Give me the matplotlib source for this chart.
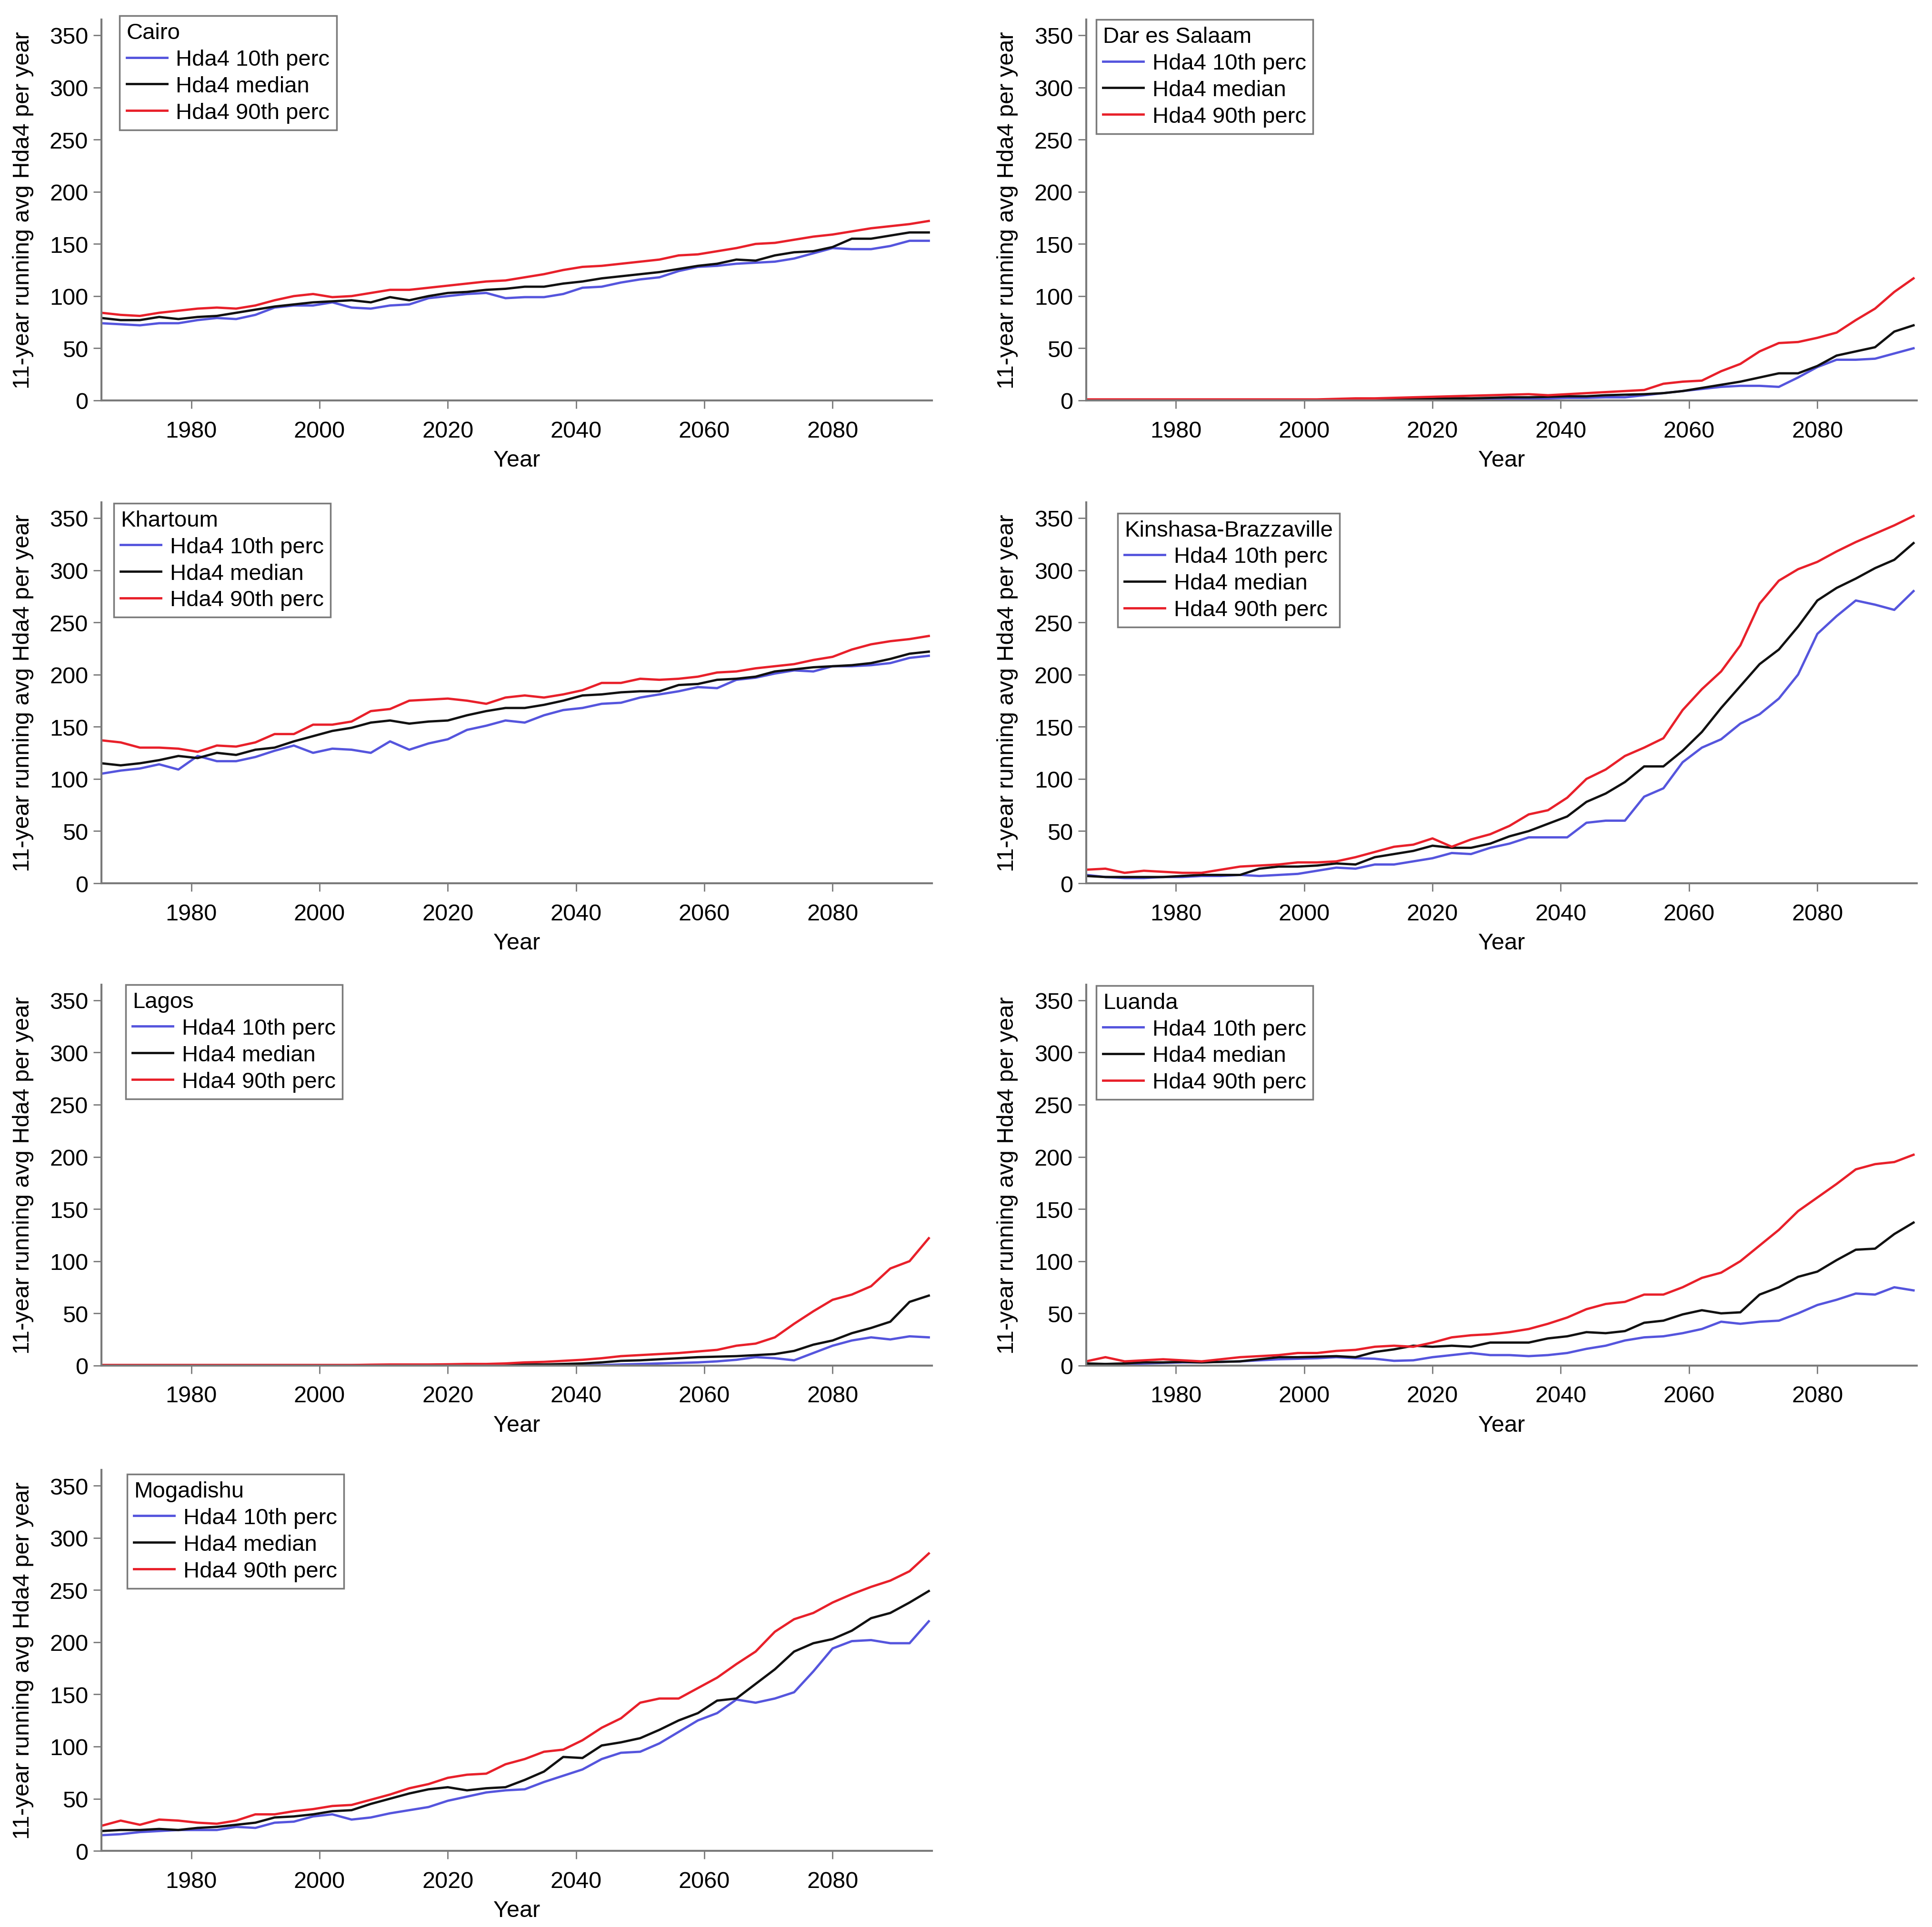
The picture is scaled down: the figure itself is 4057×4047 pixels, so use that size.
import matplotlib
matplotlib.use("Agg")
import matplotlib.pyplot as plt

plt.rcParams['font.family'] = ['Liberation Sans', 'DejaVu Sans']

# 11-year running average, sampled every 3 years
YEARS = [1966, 1969, 1972, 1975, 1978, 1981, 1984, 1987, 1990, 1993, 1996,
         1999, 2002, 2005, 2008, 2011, 2014, 2017, 2020, 2023, 2026, 2029,
         2032, 2035, 2038, 2041, 2044, 2047, 2050, 2053, 2056, 2059, 2062,
         2065, 2068, 2071, 2074, 2077, 2080, 2083, 2086, 2089, 2092, 2095]

CAIRO_P10 = [74, 73, 72, 74, 74, 77, 79, 78, 82, 89, 91, 91, 94, 89, 88, 91, 92, 98, 100, 102, 103, 98,
             99, 99, 102, 108, 109, 113, 116, 118, 124, 128, 129, 131, 132, 133, 136, 141, 146, 145, 145, 148, 153, 153]
CAIRO_MED = [79, 77, 77, 80, 78, 80, 81, 84, 87, 90, 92, 94, 95, 96, 94, 99, 96, 100, 103, 104, 106, 107,
             109, 109, 112, 114, 117, 119, 121, 123, 126, 129, 131, 135, 134, 139, 142, 143, 147, 155, 155, 158, 161, 161]
CAIRO_P90 = [84, 82, 81, 84, 86, 88, 89, 88, 91, 96, 100, 102, 99, 100, 103, 106, 106, 108, 110, 112, 114, 115,
             118, 121, 125, 128, 129, 131, 133, 135, 139, 140, 143, 146, 150, 151, 154, 157, 159, 162, 165, 167, 169, 172]

DAR_P10 = [0.3, 0.3, 0.3, 0.3, 0.3, 0.3, 0.3, 0.3, 0.3, 0.3, 0.3, 0.3, 0.3, 0.3, 0.3, 0.3, 0.3, 0.3, 0.3, 1, 1, 1.5,
           1.5, 2, 2, 2.5, 2.5, 3, 3, 5, 7, 9, 11, 13, 14, 14, 13, 22, 32, 39, 39, 40, 45, 50]
DAR_MED = [0.5, 0.5, 0.5, 0.5, 0.5, 0.5, 0.5, 0.5, 0.5, 0.5, 0.5, 0.5, 0.5, 0.5, 0.5, 1, 1, 1.5, 1.5, 2, 2, 2.5,
           3, 3, 3.5, 4, 4, 5, 5.5, 6, 7, 9, 12, 15, 18, 22, 26, 26, 33, 43, 47, 51, 66, 72]
DAR_P90 = [1, 1, 1, 1, 1, 1, 1, 1, 1, 1, 1, 1, 1, 1.5, 2, 2, 2.5, 3, 3.5, 4, 4.5, 5,
           5.5, 6, 5, 6, 7, 8, 9, 10, 16, 18, 19, 28, 35, 47, 55, 56, 60, 65, 77, 88, 104, 117]

KHARTOUM_P10 = [105, 108, 110, 114, 109, 122, 117, 117, 121, 127, 132, 125, 129, 128, 125, 136, 128, 134, 138, 147, 151, 156,
                154, 161, 166, 168, 172, 173, 178, 181, 184, 188, 187, 195, 197, 201, 204, 203, 208, 208, 209, 211, 216, 218]
KHARTOUM_MED = [115, 113, 115, 118, 122, 120, 125, 123, 128, 130, 136, 141, 146, 149, 154, 156, 153, 155, 156, 161, 165, 168,
                168, 171, 175, 180, 181, 183, 184, 184, 190, 191, 195, 196, 198, 203, 205, 207, 208, 209, 211, 215, 220, 222]
KHARTOUM_P90 = [137, 135, 130, 130, 129, 126, 132, 131, 135, 143, 143, 152, 152, 155, 165, 167, 175, 176, 177, 175, 172, 178,
                180, 178, 181, 185, 192, 192, 196, 195, 196, 198, 202, 203, 206, 208, 210, 214, 217, 224, 229, 232, 234, 237]

KINSHASA_P10 = [8, 6, 5, 5, 6, 6, 7, 7, 8, 7, 8, 9, 12, 15, 14, 18, 18, 21, 24, 29, 28, 34,
                38, 44, 44, 44, 58, 60, 60, 83, 91, 116, 130, 138, 153, 162, 177, 200, 239, 256, 271, 267, 262, 280]
KINSHASA_MED = [7, 6, 6, 6, 6, 7, 8, 8, 8, 14, 16, 16, 17, 19, 18, 25, 28, 31, 36, 34, 34, 38,
                45, 50, 57, 64, 78, 86, 97, 112, 112, 127, 145, 168, 189, 210, 224, 246, 271, 283, 292, 302, 310, 326]
KINSHASA_P90 = [13, 14, 10, 12, 11, 10, 10, 13, 16, 17, 18, 20, 20, 21, 25, 30, 35, 37, 43, 35, 42, 47,
                55, 66, 70, 82, 100, 109, 122, 130, 139, 166, 186, 203, 228, 268, 290, 301, 308, 318, 327, 335, 343, 352]

LAGOS_P10 = [0.2, 0.2, 0.2, 0.2, 0.2, 0.2, 0.2, 0.2, 0.2, 0.2, 0.2, 0.2, 0.2, 0.2, 0.2, 0.2, 0.2, 0.2, 0.2, 0.2, 0.2, 0.2,
             0.2, 0.2, 0.2, 0.2, 0.5, 1, 1.5, 2, 2.5, 3, 4, 5.5, 8, 7, 5, 12, 19, 24, 27, 25, 28, 27]
LAGOS_MED = [0.3, 0.3, 0.3, 0.3, 0.3, 0.3, 0.3, 0.3, 0.3, 0.3, 0.3, 0.3, 0.3, 0.3, 0.3, 0.3, 0.3, 0.3, 0.3, 0.3, 0.3, 0.3,
             1, 1, 1.5, 2, 3, 4.5, 5, 6, 7, 8, 8.5, 9, 10, 11, 14, 20, 24, 31, 36, 42, 61, 67]
LAGOS_P90 = [0.5, 0.5, 0.5, 0.5, 0.5, 0.5, 0.5, 0.5, 0.5, 0.5, 0.5, 0.5, 0.5, 0.5, 0.8, 1, 1, 1, 1.2, 1.5, 1.5, 2,
             3, 3.5, 4.5, 5.5, 7, 9, 10, 11, 12, 13.5, 15, 19, 21, 27, 40, 52, 63, 68, 76, 93, 100, 122]

LUANDA_P10 = [1, 1.5, 1.5, 2, 2.5, 3, 3, 3.5, 4, 5, 6, 6.5, 7, 8, 7, 6.5, 4.5, 5, 8, 10, 12, 10,
              10, 9, 10, 12, 16, 19, 24, 27, 28, 31, 35, 42, 40, 42, 43, 50, 58, 63, 69, 68, 75, 72]
LUANDA_MED = [2, 1.5, 2, 3, 3, 3.5, 3, 3.5, 4, 6, 8, 8, 8.5, 9, 8, 13, 15.5, 19, 18, 19, 18, 22,
              22, 22, 26, 28, 32, 31, 33, 41, 43, 49, 53, 50, 51, 68, 75, 85, 90, 101, 111, 112, 126, 137]
LUANDA_P90 = [4, 8, 4, 5, 6, 5, 4, 6, 8, 9, 10, 12, 12, 14, 15, 18, 19, 18, 22, 27, 29, 30,
              32, 35, 40, 46, 54, 59, 61, 68, 68, 75, 84, 89, 100, 115, 130, 148, 161, 174, 188, 193, 195, 202]

MOGADISHU_P10 = [15, 16, 18, 19, 20, 20, 20, 23, 22, 27, 28, 33, 35, 30, 32, 36, 39, 42, 48, 52, 56, 58,
                 59, 66, 72, 78, 88, 94, 95, 103, 114, 125, 132, 145, 142, 146, 152, 172, 194, 201, 202, 199, 199, 220]
MOGADISHU_MED = [19, 20, 20, 21, 20, 22, 23, 25, 27, 32, 33, 35, 38, 39, 45, 50, 55, 59, 61, 58, 60, 61,
                 68, 76, 90, 89, 101, 104, 108, 116, 125, 132, 144, 146, 160, 174, 191, 199, 203, 211, 223, 228, 238, 249]
MOGADISHU_P90 = [24, 29, 25, 30, 29, 27, 26, 29, 35, 35, 38, 40, 43, 44, 49, 54, 60, 64, 70, 73, 74, 83,
                 88, 95, 97, 106, 118, 127, 142, 146, 146, 156, 166, 179, 191, 210, 222, 228, 238, 246, 253, 259, 268, 285]

CITIES = ['Cairo', 'Dar es Salaam', 'Khartoum', 'Kinshasa-Brazzaville', 'Lagos', 'Luanda', 'Mogadishu']
P10 = [CAIRO_P10, DAR_P10, KHARTOUM_P10, KINSHASA_P10, LAGOS_P10, LUANDA_P10, MOGADISHU_P10]
MED = [CAIRO_MED, DAR_MED, KHARTOUM_MED, KINSHASA_MED, LAGOS_MED, LUANDA_MED, MOGADISHU_MED]
P90 = [CAIRO_P90, DAR_P90, KHARTOUM_P90, KINSHASA_P90, LAGOS_P90, LUANDA_P90, MOGADISHU_P90]

# legend anchor (axes fraction) per panel
LEG_POS = [(0.022, 1.01), (0.012, 1.0), (0.015, 0.998), (0.038, 0.972),
           (0.029, 1.0), (0.012, 0.998), (0.031, 0.989)]

lefts = [0.0525, 0.5622]
bottoms = [0.792, 0.5415, 0.2913, 0.0395]
w, h = 0.4299, 0.1976

fig = plt.figure(figsize=(40.57, 40.48), dpi=100)
grey = '#7a7a7a'

for i, city in enumerate(CITIES):
    ax = fig.add_axes([lefts[i % 2], bottoms[i // 2], w, h])
    ax.plot(YEARS, P10[i], color='#5555dd', lw=3.5, label='Hda4 10th perc')
    ax.plot(YEARS, MED[i], color='#111111', lw=3.5, label='Hda4 median')
    ax.plot(YEARS, P90[i], color='#e8202a', lw=3.5, label='Hda4 90th perc')

    ax.set_xlim(1966, 2095.5)
    ax.set_ylim(0, 365)
    ax.set_xticks([1980, 2000, 2020, 2040, 2060, 2080])
    ax.set_yticks(range(0, 351, 50))
    for s in ['top', 'right']:
        ax.spines[s].set_visible(False)
    for s in ['left', 'bottom']:
        ax.spines[s].set_color(grey)
        ax.spines[s].set_linewidth(3)
    ax.tick_params(axis='both', colors=grey, labelcolor='black', labelsize=35,
                   length=12, width=2)
    ax.tick_params(axis='y', pad=8)
    ax.tick_params(axis='x', pad=18)
    ax.set_xlabel('Year', fontsize=35, labelpad=12)
    ax.set_ylabel('11-year running avg Hda4 per year', fontsize=35, labelpad=24)

    leg = ax.legend(title=city, loc='upper left', bbox_to_anchor=LEG_POS[i],
                    borderaxespad=0, fontsize=34, title_fontsize=34,
                    fancybox=False, framealpha=1, edgecolor=grey,
                    labelspacing=0.25, handlelength=1.8, handletextpad=0.4,
                    borderpad=0.3, alignment='left')
    leg.get_frame().set_linewidth(2.5)

fig.savefig('out.png', dpi=100)
